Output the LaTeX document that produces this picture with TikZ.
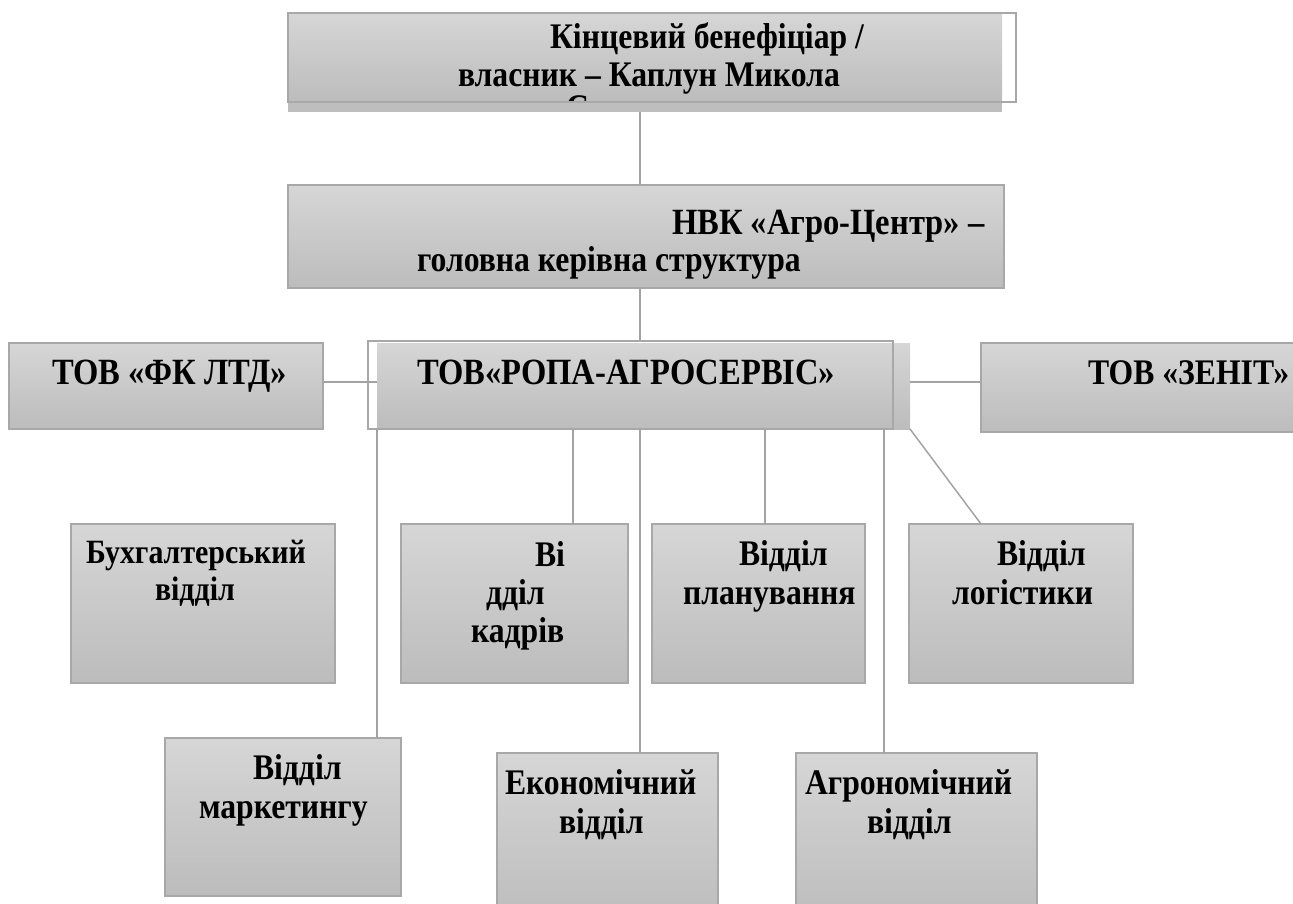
\documentclass[tikz,border=0pt]{standalone}
\usepackage{fontspec}
\setmainfont{Liberation Serif}[FakeStretch=0.88]
\definecolor{boxtop}{HTML}{D6D6D6}
\definecolor{boxbottom}{HTML}{BCBCBC}
\definecolor{boxline}{HTML}{A8A8A8}
\definecolor{linkgray}{HTML}{A3A3A3}
\definecolor{shadowgray}{HTML}{BEBEBE}

\begin{document}
\begin{tikzpicture}[x=1pt, y=-1pt, line width=1.5pt,
        every node/.append style={inner sep=0pt, outer sep=0pt}]
      \tikzstyle{unit} = [rectangle, anchor=north west, draw=boxline, top color=boxtop, bottom color=boxbottom]
      \tikzstyle{plate} = [rectangle, anchor=north west, top color=boxtop, bottom color=boxbottom]
      \tikzstyle{frame} = [rectangle, anchor=north west, draw=boxline]
      \tikzstyle{word} = [anchor=base west, font=\fontsize{36}{40}\selectfont\bfseries, color=black]
      \tikzstyle{bigword} = [word, font=\fontsize{37}{41}\selectfont\bfseries]
      \tikzstyle{smallword} = [word, font=\fontsize{34}{38}\selectfont\bfseries]
      \tikzstyle{link} = [draw=linkgray]
      \useasboundingbox (0,0) rectangle (1293,904);

      % owner
      \node (owner) [plate, minimum width=714, minimum height=89] at (288,13) {};
      \node (ownershadow) [rectangle, anchor=north west, fill=shadowgray, minimum width=714, minimum height=10] at (288,102) {};
      \node (owner1) [word] at (550,49) {Кінцевий бенефіціар /};
      \node (owner2) [word] at (458,87) {власник – Каплун Микола};
      \begin{scope}
        \clip (288,13) rectangle (1002,102);
        \node (owner3) [word] at (566,120) {С};
      \end{scope}
      \node (ownerframe) [frame, minimum width=728, minimum height=89] at (288,13) {};

      % head office
      \node (nvk) [unit, minimum width=716, minimum height=103] at (288,185) {};
      \node (nvk1) [bigword] at (672,235) {НВК «Агро-Центр» –};
      \node (nvk2) [word] at (417,271) {головна керівна структура};

      % companies
      \node (fk) [unit, minimum width=314, minimum height=86] at (9,343) {};
      \node (fk1) [bigword] at (52,384) {ТОВ «ФК ЛТД»};
      \node (ropa) [plate, minimum width=533, minimum height=86] at (377,343) {};
      \node (ropaframe) [frame, minimum width=525, minimum height=88] at (368,341) {};
      \node (ropa1) [bigword] at (417,384) {ТОВ«РОПА-АГРОСЕРВІС»};
      \node (zenit) [unit, minimum width=330, minimum height=89] at (981,343) {};
      \node (zenit1) [word] at (1088,384) {ТОВ «ЗЕНІТ»};

      % departments
      \node (buh) [unit, minimum width=264, minimum height=159] at (71,524) {};
      \node (buh1) [smallword] at (86,563) {Бухгалтерський};
      \node (buh2) [smallword] at (155,600) {відділ};
      \node (kadry) [unit, minimum width=227, minimum height=159] at (401,524) {};
      \node (kadry1) [word] at (535,566) {Ві};
      \node (kadry2) [word] at (486,604) {дділ};
      \node (kadry3) [word] at (471,642) {кадрів};
      \node (planuv) [unit, minimum width=213, minimum height=159] at (652,524) {};
      \node (planuv1) [word] at (739,565) {Відділ};
      \node (planuv2) [word] at (683,604) {планування};
      \node (logist) [unit, minimum width=224, minimum height=159] at (909,524) {};
      \node (logist1) [word] at (997,565) {Відділ};
      \node (logist2) [word] at (952,604) {логістики};
      \node (market) [unit, minimum width=236, minimum height=158] at (165,738) {};
      \node (market1) [word] at (253,779) {Відділ};
      \node (market2) [word] at (199,818) {маркетингу};
      \node (ekonom) [unit, minimum width=221, minimum height=170] at (497,753) {};
      \node (ekonom1) [word] at (505,794) {Економічний};
      \node (ekonom2) [word] at (559,833) {відділ};
      \node (agro) [unit, minimum width=241, minimum height=170] at (796,753) {};
      \node (agro1) [word] at (805,794) {Агрономічний};
      \node (agro2) [word] at (867,833) {відділ};

      % connectors
      \coordinate (trunk) at (640,0);
      \coordinate (side) at (0,382);
      \draw[link] (ownershadow.south -| trunk) -- (nvk.north -| trunk);
      \draw[link] (nvk.south -| trunk) -- (ropaframe.north -| trunk);
      \draw[link] (fk.east |- side) -- (ropa.west |- side);
      \draw[link] (ropa.east |- side) -- (zenit.west |- side);
      \foreach \x/\dept in {377/market, 573/kadry, 640/ekonom, 765/planuv, 884/agro}
        \draw[link] (ropa.south -| \x,0) -- (\dept.north -| \x,0);
      \draw[link] (ropa.south east) -- (logist.north -| 981,0);
    \end{tikzpicture}
\end{document}
